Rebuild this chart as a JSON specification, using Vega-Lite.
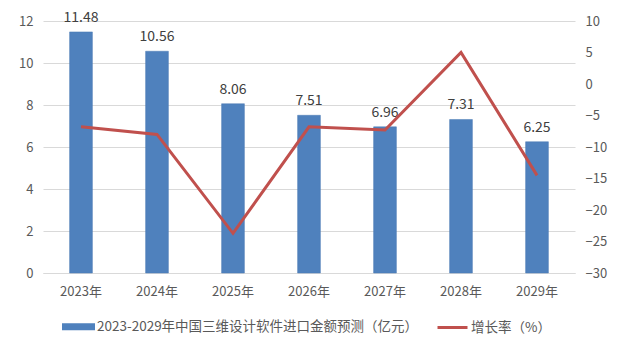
{
  "$schema": "https://vega.github.io/schema/vega-lite/v6.json",
  "width": 532,
  "height": 252,
  "autosize": {"type": "none"},
  "padding": {"left": 43, "top": 21, "right": 45, "bottom": 82},
  "background": "white",
  "config": {
    "font": "Noto Sans CJK SC",
    "view": {"stroke": null},
    "axis": {"labelColor": "#595959", "labelFontSize": 13, "labelFont": "Noto Sans CJK SC", "ticks": false, "domain": false, "title": null, "gridColor": "#d9d9d9", "gridWidth": 1},
    "legend": {"labelFont": "Noto Sans CJK SC", "labelColor": "#595959", "labelFontSize": 13.5}
  },
  "data": {
    "values": [
      {"year": "2023年", "amount": 11.48, "growth": -6.8, "s1": "2023-2029年中国三维设计软件进口金额预测（亿元）"},
      {"year": "2024年", "amount": 10.56, "growth": -8.0, "s1": "2023-2029年中国三维设计软件进口金额预测（亿元）"},
      {"year": "2025年", "amount": 8.06, "growth": -23.7, "s1": "2023-2029年中国三维设计软件进口金额预测（亿元）"},
      {"year": "2026年", "amount": 7.51, "growth": -6.8, "s1": "2023-2029年中国三维设计软件进口金额预测（亿元）"},
      {"year": "2027年", "amount": 6.96, "growth": -7.3, "s1": "2023-2029年中国三维设计软件进口金额预测（亿元）"},
      {"year": "2028年", "amount": 7.31, "growth": 5.0, "s1": "2023-2029年中国三维设计软件进口金额预测（亿元）"},
      {"year": "2029年", "amount": 6.25, "growth": -14.5, "s1": "2023-2029年中国三维设计软件进口金额预测（亿元）"}
    ]
  },
  "encoding": {
    "x": {
      "field": "year", "type": "nominal", "sort": null,
      "scale": {"paddingInner": 0.7, "paddingOuter": 0.35},
      "axis": {"labelAngle": 0, "domain": true, "domainColor": "#d9d9d9", "labelPadding": 12}
    }
  },
  "layer": [
    {
      "layer": [
        {
          "mark": {"type": "bar", "stroke": "#4a7ab5", "strokeWidth": 0.5},
          "encoding": {
            "y": {"field": "amount", "type": "quantitative", "scale": {"domain": [0, 12], "nice": false}, "axis": {"values": [0, 2, 4, 6, 8, 10, 12], "labelPadding": 10, "grid": true}},
            "color": {
              "field": "s1", "type": "nominal",
              "scale": {"domain": ["2023-2029年中国三维设计软件进口金额预测（亿元）", "增长率（%）"], "range": ["#4f81bd", "#c0504d"]},
              "legend": {
                "title": null, "orient": "none", "legendX": 19, "legendY": 289, "direction": "horizontal",
                "symbolSize": 900, "symbolStrokeWidth": 3, "symbolOffset": 0, "labelOffset": 2, "columnPadding": 12, "labelLimit": 500,
                "encoding": {
                  "symbols": {
                    "shape": {"value": {"expr": "datum.label === '增长率（%）' ? 'stroke' : 'M-1,-0.13H1V0.13H-1Z'"}},
                    "fill": {"value": {"expr": "datum.label === '增长率（%）' ? 'transparent' : '#4f81bd'"}},
                    "stroke": {"value": {"expr": "datum.label === '增长率（%）' ? '#c0504d' : '#4f81bd'"}},
                    "opacity": {"value": 1}
                  }
                }
              }
            }
          }
        },
        {
          "mark": {"type": "text", "dy": -14, "fontSize": 14, "color": "#404040", "font": "Noto Sans CJK SC"},
          "encoding": {
            "y": {"field": "amount", "type": "quantitative"},
            "text": {"field": "amount", "type": "quantitative", "format": ".2f"}
          }
        }
      ]
    },
    {
      "mark": {"type": "line", "color": "#c0504d", "strokeWidth": 3},
      "encoding": {
        "y": {"field": "growth", "type": "quantitative", "scale": {"domain": [-30, 10], "nice": false}, "axis": {"orient": "right", "values": [-30, -25, -20, -15, -10, -5, 0, 5, 10], "grid": false, "labelPadding": 10}}
      }
    }
  ],
  "resolve": {"scale": {"y": "independent"}}
}
